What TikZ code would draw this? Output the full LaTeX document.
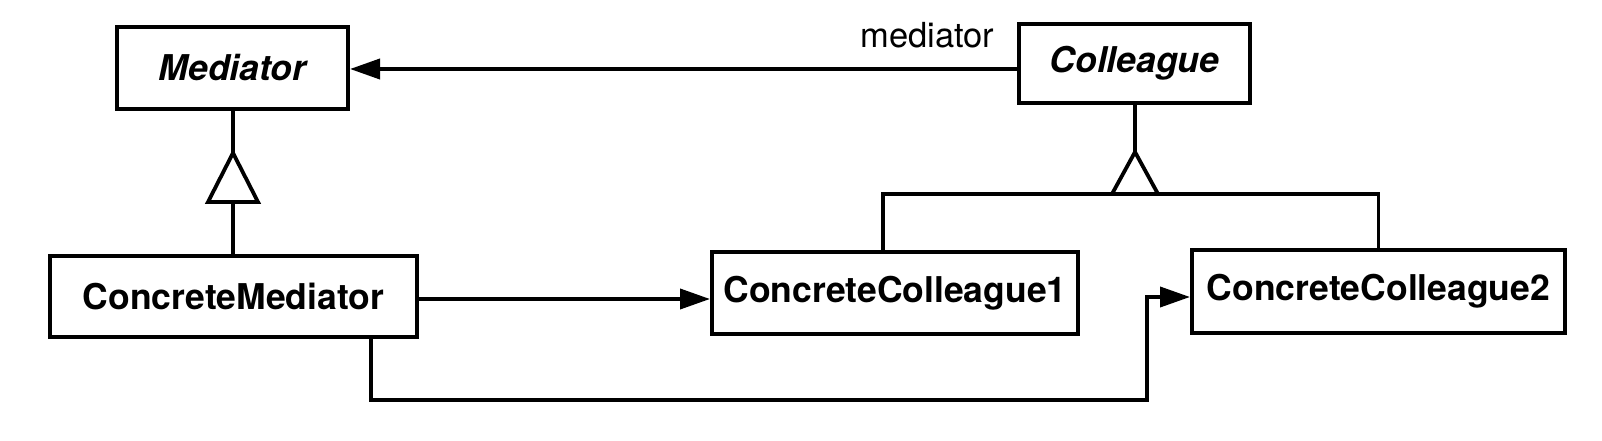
\documentclass[tikz,border=0pt]{standalone}
\usepackage{fontspec}
\setmainfont{TeX Gyre Heros}
\usetikzlibrary{arrows.meta}
\begin{document}
\begin{tikzpicture}[x=1pt,y=1pt,
  cls/.style={draw=black, line width=4pt, fill=white, inner sep=0pt,
    font=\fontsize{35.5}{40}\selectfont\bfseries, align=center},
  conn/.style={line width=3.8pt, line join=miter},
  assoc/.style={conn, -{Triangle[length=30pt,width=20pt]}},
  inh/.style={line width=3.8pt, fill=white, line join=miter}
]
\useasboundingbox (0,0) rectangle (1602,440);
\fill[white] (0,0) rectangle (1602,440);

\node[cls, minimum width=231pt, minimum height=82pt] (Mediator) at (232.5,372) {\itshape Mediator};
\node[cls, minimum width=231pt, minimum height=79pt] (Colleague) at (1134.5,376.5) {\itshape Colleague};
\node[cls, minimum width=367pt, minimum height=81pt] (CM) at (233.5,143.5) {ConcreteMediator};
\node[cls, minimum width=366pt, minimum height=82pt] (CC1) at (895,147) {ConcreteColleague1};
\node[cls, minimum width=373pt, minimum height=83pt] (CC2) at (1378.5,148.5) {ConcreteColleague2};

\node[font=\fontsize{34.5}{40}\selectfont, inner sep=0pt] (lbl) at (927.5,405) {mediator};

% association Colleague -> Mediator
\draw[assoc] (Colleague.west |- 0,371) -- (Mediator.east |- 0,371);

% inheritance Mediator
\coordinate (mapex) at (233,287);
\coordinate (mbase) at (233,238);
\draw[conn] (Mediator.south -| mapex) -- (mapex);
\draw[conn] (mbase) -- (CM.north -| mbase);
\draw[inh] (mapex) -- (258,238) -- (208,238) -- cycle;

% inheritance Colleague
\coordinate (capex) at (1135,288);
\coordinate (bus) at (1135,246);
\draw[conn] (Colleague.south -| capex) -- (capex);
\draw[conn] (CC1.north -| 883,0) -- (883,246) -- (CC2.north |- 0,246) -- (CC2.north);
\draw[inh] (capex) -- (1158,246) -- (1112,246) -- cycle;

% ConcreteMediator -> ConcreteColleague1
\draw[assoc] (CM.east |- 0,141) -- (CC1.west |- 0,141);

% ConcreteMediator -> ConcreteColleague2
\draw[assoc] (CM.south -| 371,0) -- (371,40) -- (1147,40) -- (1147,143) -- (CC2.west |- 0,143);
\end{tikzpicture}
\end{document}
